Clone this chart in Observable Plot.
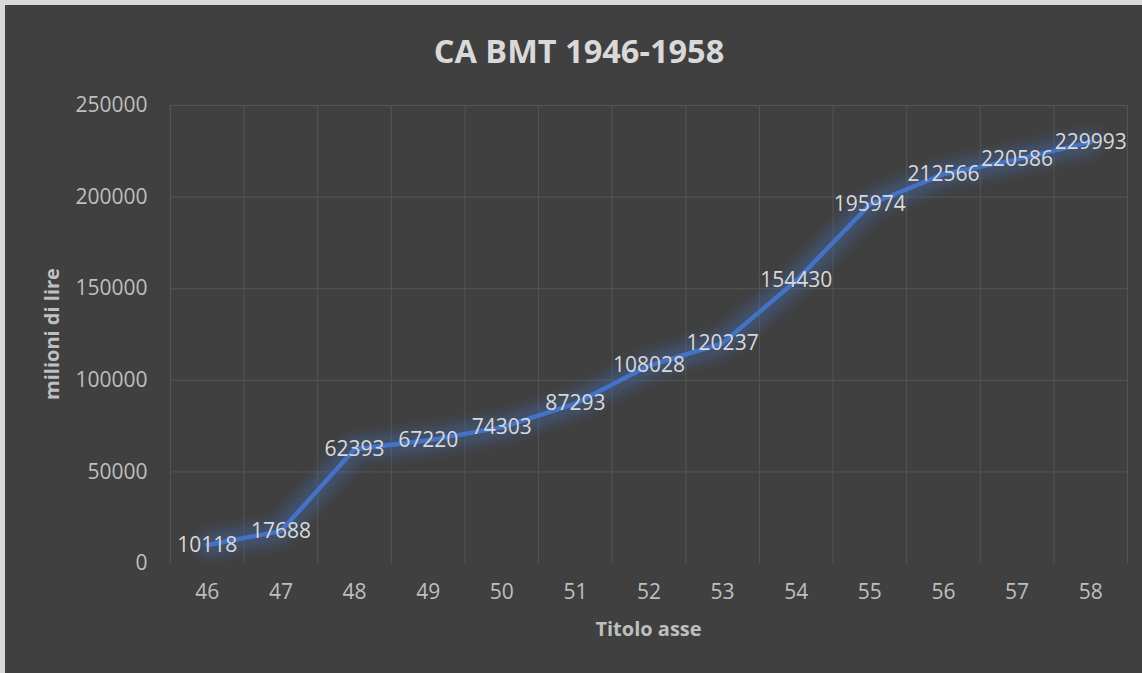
<!DOCTYPE html>
<html>
<head>
<meta charset="utf-8">
<script src="https://cdn.jsdelivr.net/npm/d3@7"></script>
<script src="https://cdn.jsdelivr.net/npm/@observablehq/plot@0.6"></script>
<style>
  html, body { margin: 0; padding: 0; background: #d9d9d9; width: 1142px; height: 673px; overflow: hidden; }
  #chart svg { display: block; margin: 5px 0 0 5px; }
</style>
</head>
<body>
<div id="chart"></div>
<script>
const chartTitle = "CA BMT 1946-1958";
const xTitle = "Titolo asse";
const yTitle = "milioni di lire";
const years = [46, 47, 48, 49, 50, 51, 52, 53, 54, 55, 56, 57, 58];
const values = [10118, 17688, 62393, 67220, 74303, 87293, 108028, 120237, 154430, 195974, 212566, 220586, 229993];
const yTicks = [0, 50000, 100000, 150000, 200000, 250000];

const data = years.map((yr, i) => ({year: yr, value: values[i]}));
const edges = d3.range(years.length + 1).map(i => years[0] - 0.5 + i);

const W = 1137, H = 668;
const mL = 165, mR = 15, mT = 100, mB = 110;

const plot = Plot.plot({
  width: W,
  height: H,
  marginLeft: mL,
  marginRight: mR,
  marginTop: mT,
  marginBottom: mB,
  style: {background: "#404040", fontFamily: "'Open Sans', sans-serif", overflow: "visible"},
  x: {type: "linear", domain: [edges[0], edges[edges.length - 1]]},
  y: {domain: [yTicks[0], yTicks[yTicks.length - 1]]},
  marks: [
    Plot.ruleY(yTicks.slice(1), {stroke: "#545454", strokeWidth: 1}),
    Plot.ruleX(edges, {stroke: "#545454", strokeWidth: 1}),
    Plot.axisY({ticks: yTicks, tickSize: 0, tickPadding: 23, tickFormat: d3.format("d"), fontSize: 21, color: "#bfbfbf", label: null}),
    Plot.axisX({ticks: years, tickSize: 0, tickPadding: 21, tickFormat: d3.format("d"), fontSize: 21, color: "#bfbfbf", label: null}),
    Plot.line(data, {x: "year", y: "value", stroke: "#4472c4", strokeWidth: 24, strokeOpacity: 0.35, strokeLinejoin: "round", strokeLinecap: "round"}),
    Plot.line(data, {x: "year", y: "value", stroke: "#4472c4", strokeWidth: 4.5, strokeLinejoin: "round", strokeLinecap: "round"}),
    Plot.text(data, {x: "year", y: "value", text: d => String(d.value), fill: "#d9d9d9", fontSize: 21})
  ]
});

document.getElementById("chart").appendChild(plot);

// soft glow on the wide underlying line
const lines = plot.querySelectorAll('g[aria-label="line"]');
if (lines.length) lines[0].style.filter = "blur(6px)";

const svg = d3.select(plot);
svg.append("text")
  .attr("x", 574).attr("y", 58)
  .attr("text-anchor", "middle")
  .attr("font-family", "'Open Sans', sans-serif")
  .attr("font-weight", "bold")
  .attr("font-size", 32.5)
  .attr("fill", "#d9d9d9")
  .text(chartTitle);

svg.append("text")
  .attr("x", (mL + W - mR) / 2).attr("y", 631)
  .attr("text-anchor", "middle")
  .attr("font-family", "'Open Sans', sans-serif")
  .attr("font-weight", "bold")
  .attr("font-size", 20)
  .attr("fill", "#bfbfbf")
  .text(xTitle);

svg.append("text")
  .attr("transform", `translate(${48 + 6},${(mT + H - mB) / 2}) rotate(-90)`)
  .attr("text-anchor", "middle")
  .attr("font-family", "'Open Sans', sans-serif")
  .attr("font-weight", "bold")
  .attr("font-size", 20)
  .attr("fill", "#bfbfbf")
  .text(yTitle);
</script>
</body>
</html>
